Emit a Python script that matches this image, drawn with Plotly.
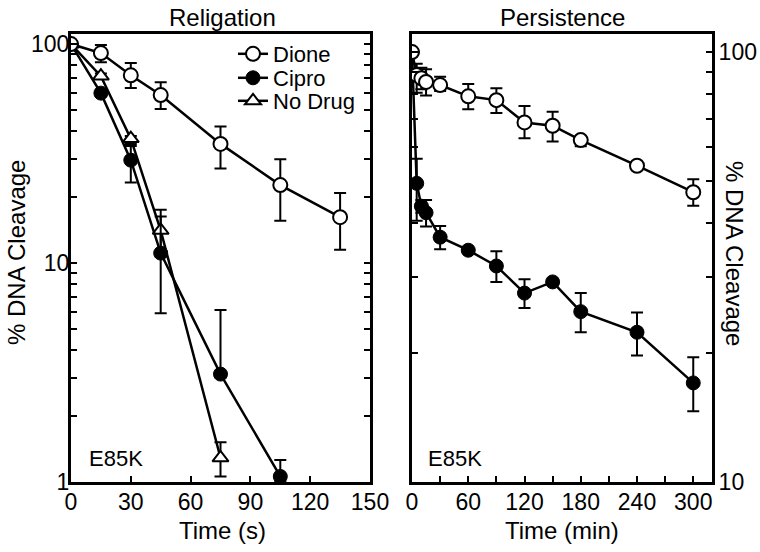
import plotly.graph_objects as go

# ---------------- data ----------------
# Religation (time in s)
rel_time_dione = [0, 15, 30, 45, 75, 105, 135]
rel_dione = [100, 91, 72, 58.5, 35, 22.7, 16.2]
rel_dione_up = [0, 8, 10, 8.5, 7, 7.1, 4.7]
rel_dione_dn = [0, 8.3, 9, 8, 8, 7.1, 4.7]

rel_time_cipro = [0, 15, 30, 45, 75, 105]
rel_cipro = [100, 59.7, 29.5, 11.1, 3.11, 1.06]
rel_cipro_up = [0, 2, 5.5, 5.2, 3.0, 0.2]
rel_cipro_dn = [0, 2, 6.2, 5.2, 0.1, 0.05]

rel_time_nodrug = [0, 15, 30, 45, 75]
rel_nodrug = [100, 71.4, 37.0, 14.1, 1.29]
rel_nodrug_up = [0, 2, 1.0, 3.4, 0.23]
rel_nodrug_dn = [0, 2, 2.8, 3.4, 0.23]

# Persistence (time in min)
per_time = [0, 5, 10, 15, 30, 60, 90, 120, 150, 180, 240, 300]
per_dione = [100, 88.4, 86.9, 85.2, 83.8, 78.9, 77.3, 68.6, 67.4, 62.4, 54.4, 47.2]
per_dione_up = [0, 5.5, 5, 6, 3.8, 5.4, 5.1, 6.3, 5.2, 0, 0, 3.4]
per_dione_dn = [0, 8, 5, 6, 2.6, 5.3, 5.1, 5.6, 5.5, 2, 0, 3.3]
per_cipro = [100, 49.5, 43.8, 42.3, 37.1, 34.6, 31.8, 27.5, 29.2, 24.9, 22.3, 17.0]
per_cipro_up = [0, 7, 1.5, 3, 2.3, 0, 2.6, 2.1, 0, 2.6, 2.5, 2.5]
per_cipro_dn = [0, 9, 1.5, 3, 2.3, 0, 2.6, 2.1, 0, 2.6, 2.6, 2.4]

rel_xticks = [0, 30, 60, 90, 120, 150]
per_xticks = [0, 30, 60, 90, 120, 150, 180, 210, 240, 270, 300]
per_xtext = ["0", "", "60", "", "120", "", "180", "", "240", "", "300"]
rel_yticks = [1, 2, 3, 4, 5, 6, 7, 8, 9, 10, 20, 30, 40, 50, 60, 70, 80, 90, 100]
rel_ytext = ["1", "", "", "", "", "", "", "", "", "10", "", "", "", "", "", "", "", "", "100"]
per_yticks = [10, 20, 30, 40, 50, 60, 70, 80, 90, 100]
per_ytext = ["10", "", "", "", "", "", "", "", "", "100"]

# ---------------- styling ----------------
FONT = "Liberation Sans, Arial, sans-serif"
LW = 2.5
MS = 14

# plot-area edges in page pixels
L, R, T, B = 71, 712, 34, 482
W = R - L
H = B - T


def err(up, dn):
    return dict(type="data", array=up, arrayminus=dn, symmetric=False,
                color="black", thickness=2, width=6)


open_marker = dict(symbol="circle", size=MS, color="white",
                   line=dict(color="black", width=2))
filled_marker = dict(symbol="circle", size=MS, color="black",
                     line=dict(color="black", width=1))
tri_marker = dict(symbol="triangle-up", size=MS, color="white",
                  line=dict(color="black", width=2))

fig = go.Figure()

fig.add_trace(go.Scatter(x=rel_time_nodrug, y=rel_nodrug, mode="lines+markers",
                         name="No Drug", line=dict(color="black", width=LW),
                         marker=tri_marker, error_y=err(rel_nodrug_up, rel_nodrug_dn),
                         xaxis="x", yaxis="y", legend="legend3"))
fig.add_trace(go.Scatter(x=rel_time_cipro, y=rel_cipro, mode="lines+markers",
                         name="Cipro", line=dict(color="black", width=LW),
                         marker=filled_marker, error_y=err(rel_cipro_up, rel_cipro_dn),
                         xaxis="x", yaxis="y", legend="legend2"))
fig.add_trace(go.Scatter(x=rel_time_dione, y=rel_dione, mode="lines+markers",
                         name="Dione", line=dict(color="black", width=LW),
                         marker=open_marker, error_y=err(rel_dione_up, rel_dione_dn),
                         xaxis="x", yaxis="y", legend="legend"))

fig.add_trace(go.Scatter(x=per_time, y=per_cipro, mode="lines+markers",
                         name="Cipro", line=dict(color="black", width=LW),
                         marker=filled_marker, error_y=err(per_cipro_up, per_cipro_dn),
                         xaxis="x2", yaxis="y2", showlegend=False))
fig.add_trace(go.Scatter(x=per_time, y=per_dione, mode="lines+markers",
                         name="Dione", line=dict(color="black", width=LW),
                         marker=open_marker, error_y=err(per_dione_up, per_dione_dn),
                         xaxis="x2", yaxis="y2", showlegend=False))

axis_common = dict(showline=True, linecolor="black", linewidth=3, mirror=True,
                   ticks="inside", ticklen=6, tickwidth=2, tickcolor="black",
                   showgrid=False, zeroline=False,
                   tickfont=dict(family=FONT, size=23, color="black"))


def legend_at(yc):
    return dict(x=(233 - L) / W, y=(B - yc) / H, xanchor="left", yanchor="middle",
                bgcolor="rgba(0,0,0,0)", font=dict(family=FONT, size=22, color="black"))


fig.update_layout(
    width=760, height=552,
    margin=dict(l=L, r=760 - R, t=T, b=552 - B, pad=0, autoexpand=False),
    paper_bgcolor="white", plot_bgcolor="white",
    font=dict(family=FONT, size=22, color="black"),
    showlegend=True,
    legend=legend_at(54),
    legend2=legend_at(78),
    legend3=legend_at(101),
    xaxis=dict(domain=[0, (370 - L) / W], range=[0, 150], tickvals=rel_xticks,
               anchor="y", ticklabelstandoff=-3, **axis_common),
    yaxis=dict(domain=[0, 1], type="log", range=[0, 2.046], tickvals=rel_yticks,
               ticktext=rel_ytext, anchor="x", ticklabelstandoff=-6,
               **{**axis_common, "mirror": "allticks"}),
    xaxis2=dict(domain=[(412 - L) / W, 1], range=[0, 320], tickvals=per_xticks,
                ticktext=per_xtext, anchor="y2", ticklabelstandoff=-3, **axis_common),
    yaxis2=dict(domain=[0, 1], type="log", range=[1, 2.042], tickvals=per_yticks,
                ticktext=per_ytext, anchor="x2", side="right", ticklabelstandoff=-1,
                **{**axis_common, "mirror": "allticks"}),
)

ann_font = dict(family=FONT, size=24, color="black")
annotations = [
    dict(text="Religation", x=(222 - L) / W, y=(B - 18) / H, xref="paper", yref="paper",
         showarrow=False, font=ann_font, xanchor="center", yanchor="middle"),
    dict(text="Persistence", x=(562 - L) / W, y=(B - 18) / H, xref="paper", yref="paper",
         showarrow=False, font=ann_font, xanchor="center", yanchor="middle"),
    dict(text="Time (s)", x=(222 - L) / W, y=(B - 530) / H, xref="paper", yref="paper",
         showarrow=False, font=ann_font, xanchor="center", yanchor="middle"),
    dict(text="Time (min)", x=(562 - L) / W, y=(B - 530) / H, xref="paper", yref="paper",
         showarrow=False, font=ann_font, xanchor="center", yanchor="middle"),
    dict(text="% DNA Cleavage", x=(16 - L) / W, y=(B - 253) / H, xref="paper", yref="paper",
         showarrow=False, font=ann_font, textangle=-90, xanchor="center", yanchor="middle"),
    dict(text="% DNA Cleavage", x=(735 - L) / W, y=(B - 253) / H, xref="paper", yref="paper",
         showarrow=False, font=ann_font, textangle=90, xanchor="center", yanchor="middle"),
    dict(text="E85K", x=(87 - L) / W, y=(B - 458) / H, xref="paper", yref="paper",
         showarrow=False, font=dict(family=FONT, size=22, color="black"),
         xanchor="left", yanchor="middle"),
    dict(text="E85K", x=(426 - L) / W, y=(B - 458) / H, xref="paper", yref="paper",
         showarrow=False, font=dict(family=FONT, size=22, color="black"),
         xanchor="left", yanchor="middle"),
]
fig.update_layout(annotations=annotations)

# remove the browser's default 8px body margin so the figure sits at the page origin
fig.write_html("out.html", config={"displayModeBar": False},
               post_script="document.body.style.margin='0';")
